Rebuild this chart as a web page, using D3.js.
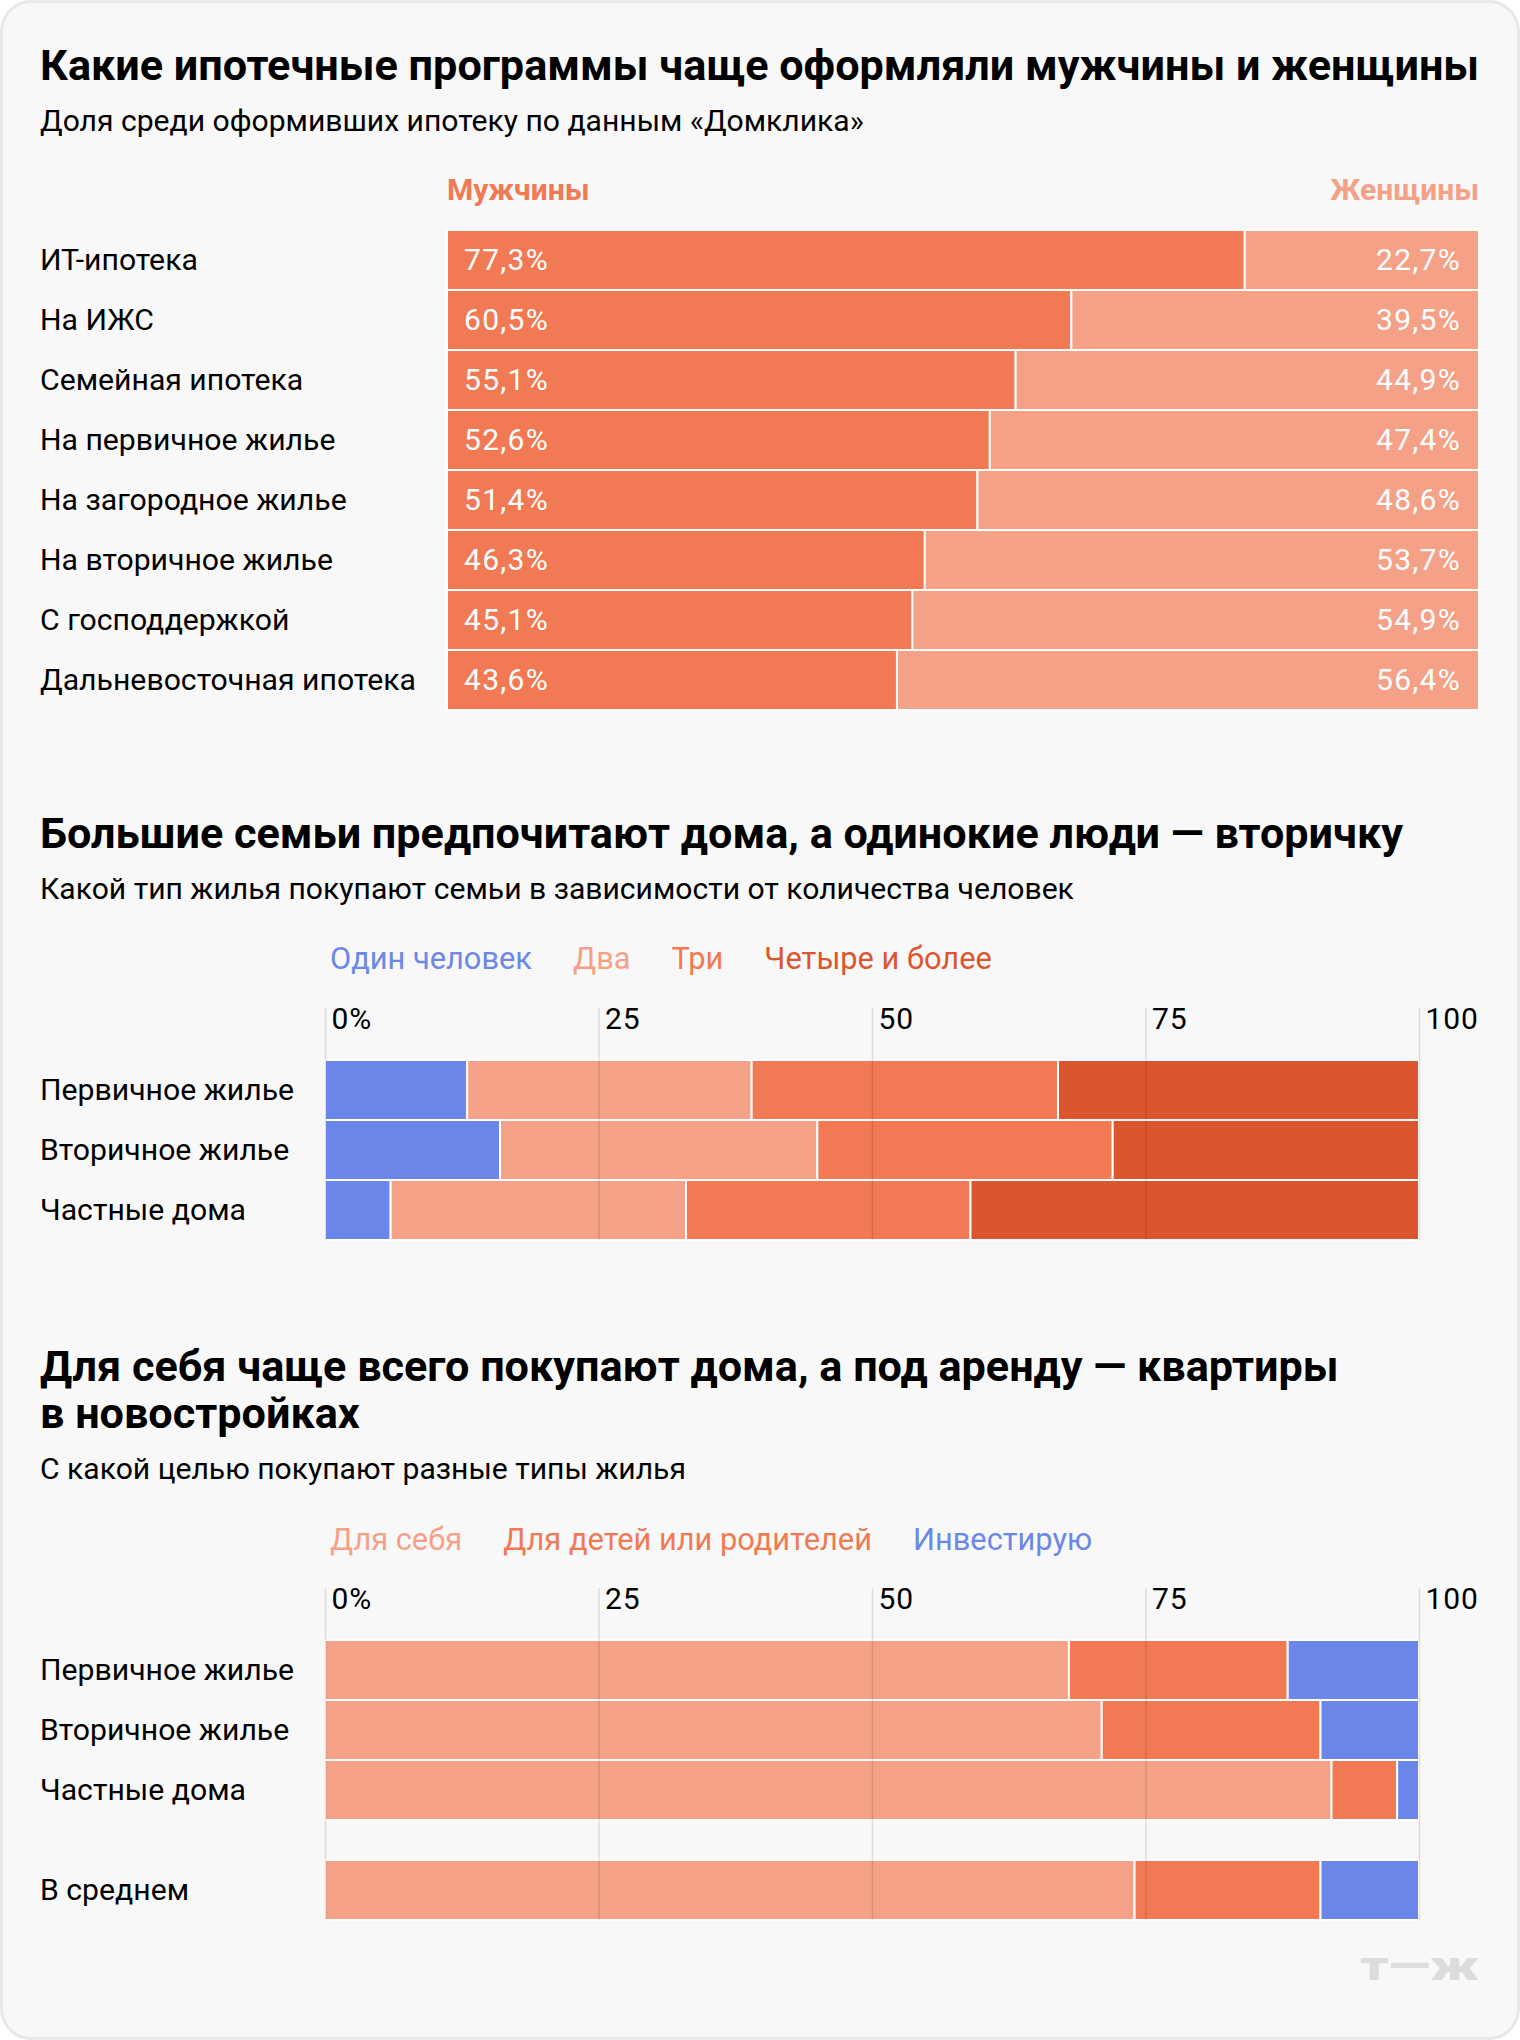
<!DOCTYPE html>
<html>
<head>
<meta charset="utf-8">
<script src="https://cdn.jsdelivr.net/npm/d3@7"></script>
<style>
  html, body { margin: 0; padding: 0; background: #ffffff; }
  svg { display: block; font-family: Roboto, "Noto Sans", sans-serif; }
</style>
</head>
<body>
<svg id="chart" width="1520" height="2040"></svg>
<script>
// ---------- DATA ----------
const programs = ["ИТ-ипотека", "На ИЖС", "Семейная ипотека", "На первичное жилье",
  "На загородное жилье", "На вторичное жилье", "С господдержкой", "Дальневосточная ипотека"];
const menShare = [77.3, 60.5, 55.1, 52.6, 51.4, 46.3, 45.1, 43.6];
const womenShare = [22.7, 39.5, 44.9, 47.4, 48.6, 53.7, 54.9, 56.4];
const genderNames = ["Мужчины", "Женщины"];

const familyHousing = ["Первичное жилье", "Вторичное жилье", "Частные дома"];
const familyNames = ["Один человек", "Два", "Три", "Четыре и более"];
const familyOne = [13, 16, 6];
const familyTwo = [26, 29, 27];
const familyThree = [28, 27, 26];
const familyFour = [33, 28, 41];

const purposeHousing = ["Первичное жилье", "Вторичное жилье", "Частные дома"];
const purposeAverageLabel = "В среднем";
const purposeNames = ["Для себя", "Для детей или родителей", "Инвестирую"];
const purposeSelf = [68, 71, 92, 74];
const purposeFamily = [20, 20, 6, 17];
const purposeInvest = [12, 9, 2, 9];

const tickValues = [0, 25, 50, 75, 100];
const tickLabels = ["0%", "25", "50", "75", "100"];

const titles = [
  ["Какие ипотечные программы чаще оформляли мужчины и женщины"],
  ["Большие семьи предпочитают дома, а одинокие люди — вторичку"],
  ["Для себя чаще всего покупают дома, а под аренду — квартиры", "в новостройках"]
];
const subtitles = [
  "Доля среди оформивших ипотеку по данным «Домклика»",
  "Какой тип жилья покупают семьи в зависимости от количества человек",
  "С какой целью покупают разные типы жилья"
];

// ---------- STYLE ----------
const C = {
  blue: "#6b87e9", light: "#f4a187", mid: "#f17954", dark: "#db562f",
  bg: "#f8f8f8", border: "#e8e8e8", text: "#000000"
};
const LEFT = 40;
const TITLE_SIZE = 43.2, TEXT_SIZE = 30.1, LABEL_SIZE = 30.2, LEGEND_SIZE = 30.8;

const svg = d3.select("#chart");

// card
svg.append("rect").attr("x", 1.5).attr("y", 1.5).attr("width", 1517).attr("height", 2037)
  .attr("rx", 30).attr("fill", C.bg).attr("stroke", C.border).attr("stroke-width", 3);

function heading(lines, baseline, sub, subBaseline) {
  lines.forEach((t, i) => {
    svg.append("text").attr("x", LEFT).attr("y", baseline + i * 47)
      .attr("font-size", TITLE_SIZE).attr("font-weight", 700).attr("fill", C.text).text(t);
  });
  svg.append("text").attr("x", LEFT).attr("y", subBaseline)
    .attr("font-size", TEXT_SIZE).attr("fill", C.text).text(sub);
}

function legend(names, colors, x0, baseline) {
  let x = x0;
  names.forEach((n, i) => {
    const t = svg.append("text").attr("x", x).attr("y", baseline)
      .attr("font-size", LEGEND_SIZE).attr("fill", colors[i]).text(n);
    x += t.node().getComputedTextLength() + 41;
  });
}

function rowLabels(labels, y) {
  labels.forEach(l => {
    svg.append("text").attr("x", LEFT).attr("y", y(l) + y.bandwidth() / 2 + 10)
      .attr("font-size", LABEL_SIZE).attr("fill", C.text).text(l);
  });
}

function gridAxis(x, top, bottom) {
  const g = svg.append("g").attr("transform", `translate(0,${top})`)
    .call(d3.axisBottom(x).tickValues(tickValues)
      .tickFormat((d, i) => tickLabels[i]).tickSize(bottom - top).tickPadding(0));
  g.select(".domain").remove();
  g.selectAll(".tick line").attr("stroke", "rgba(0,0,0,0.11)").attr("stroke-width", 1.5);
  g.selectAll(".tick text").attr("text-anchor", "start").attr("x", 6).attr("y", 21)
    .attr("dy", null).attr("font-size", 30).attr("letter-spacing", 0.9)
    .attr("font-family", "Roboto, sans-serif").attr("fill", C.text);
}

// ---------- CHART 1 ----------
heading(titles[0], 80, subtitles[0], 131);
{
  const x = d3.scaleLinear().domain([0, 100]).range([447, 1479]);
  const y = d3.scaleBand().domain(programs).range([230, 710]);
  svg.append("text").attr("x", x(0)).attr("y", 200).attr("font-size", 30).attr("font-weight", 700)
    .attr("fill", C.mid).text(genderNames[0]);
  svg.append("text").attr("x", x(100)).attr("y", 200).attr("text-anchor", "end")
    .attr("font-size", 30).attr("font-weight", 700).attr("fill", C.light).text(genderNames[1]);
  rowLabels(programs, y);
  const rows = programs.map((p, i) => ({ p, m: menShare[i], w: womenShare[i] }));
  const g = svg.append("g");
  g.selectAll("rect.m").data(rows).join("rect").attr("class", "m")
    .attr("x", x(0)).attr("y", d => y(d.p)).attr("width", d => x(d.m) - x(0))
    .attr("height", y.bandwidth()).attr("fill", C.mid).attr("stroke", "#fff").attr("stroke-width", 2);
  g.selectAll("rect.w").data(rows).join("rect").attr("class", "w")
    .attr("x", d => x(d.m)).attr("y", d => y(d.p)).attr("width", d => x(100) - x(d.m))
    .attr("height", y.bandwidth()).attr("fill", C.light).attr("stroke", "#fff").attr("stroke-width", 2);
  const fmt = v => v.toFixed(1).replace(".", ",") + "%";
  g.selectAll("text.m").data(rows).join("text").attr("class", "m")
    .attr("x", x(0) + 17).attr("y", d => y(d.p) + y.bandwidth() / 2 + 10)
    .attr("font-size", 30).attr("letter-spacing", 1.3).attr("fill", "#fff").text(d => fmt(d.m));
  g.selectAll("text.w").data(rows).join("text").attr("class", "w")
    .attr("x", x(100) - 18).attr("y", d => y(d.p) + y.bandwidth() / 2 + 10)
    .attr("text-anchor", "end").attr("font-size", 30).attr("letter-spacing", 1.3)
    .attr("fill", "#fff").text(d => fmt(d.w));
}

function stacked(rows, keys, colors, x, yOf, h) {
  const stack = d3.stack().keys(keys)(rows);
  const g = svg.append("g");
  stack.forEach((layer, li) => {
    g.selectAll(null).data(layer).join("rect")
      .attr("x", d => x(d[0])).attr("y", d => yOf(d.data.label))
      .attr("width", d => x(d[1]) - x(d[0])).attr("height", h)
      .attr("fill", colors[li]).attr("stroke", "#fff").attr("stroke-width", 2);
  });
}

// ---------- CHART 2 ----------
heading(titles[1], 848, subtitles[1], 899);
{
  const colors = [C.blue, C.light, C.mid, C.dark];
  legend(familyNames, colors, 330, 969);
  const x = d3.scaleLinear().domain([0, 100]).range([325, 1419]);
  const y = d3.scaleBand().domain(familyHousing).range([1060, 1240]);
  rowLabels(familyHousing, y);
  const rows = familyHousing.map((l, i) => ({ label: l, a: familyOne[i], b: familyTwo[i], c: familyThree[i], d: familyFour[i] }));
  stacked(rows, ["a", "b", "c", "d"], colors, x, l => y(l), y.bandwidth());
  gridAxis(x, 1008, 1240);
}

// ---------- CHART 3 ----------
heading(titles[2], 1381, subtitles[2], 1479);
{
  const colors = [C.light, C.mid, C.blue];
  legend(purposeNames, colors, 330, 1550);
  const x = d3.scaleLinear().domain([0, 100]).range([325, 1419]);
  const y = d3.scaleBand().domain(purposeHousing).range([1640, 1820]);
  const yAvg = d3.scaleBand().domain([purposeAverageLabel]).range([1860, 1920]);
  const yOf = l => l === purposeAverageLabel ? yAvg(l) : y(l);
  rowLabels(purposeHousing, y);
  rowLabels([purposeAverageLabel], yAvg);
  const labels = purposeHousing.concat([purposeAverageLabel]);
  const rows = labels.map((l, i) => ({ label: l, a: purposeSelf[i], b: purposeFamily[i], c: purposeInvest[i] }));
  stacked(rows, ["a", "b", "c"], colors, x, yOf, y.bandwidth());
  gridAxis(x, 1588, 1920);
}

// ---------- LOGO ----------
svg.append("text").attr("x", 1360).attr("y", 1980).attr("font-size", 40).attr("font-weight", 900)
  .attr("fill", "#dcdcdc").attr("textLength", 119).attr("lengthAdjust", "spacingAndGlyphs")
  .text("т—ж");
</script>
</body>
</html>
